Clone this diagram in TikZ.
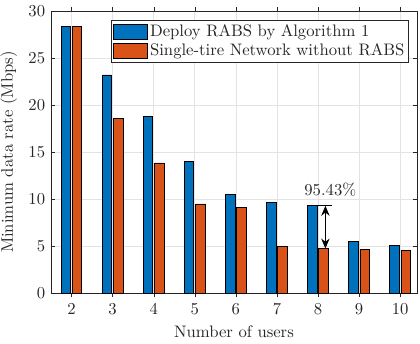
\documentclass[tikz,border=0pt]{standalone}
\usepackage{amssymb}
\usepackage{amsmath}
\usepackage{pgfplots}
\pgfplotsset{compat=1.15}
\usetikzlibrary{arrows.meta}

\definecolor{barblue}{rgb}{0,0.447,0.741}
\definecolor{barred}{rgb}{0.85,0.325,0.098}
\definecolor{axgray}{rgb}{0.15,0.15,0.15}

\begin{document}
\begin{tikzpicture}

\begin{axis}[
  at={(30.6pt,30.4pt)}, anchor=south west,
  scale only axis, width=219.6pt, height=169.4pt,
  xmin=1.5, xmax=10.41, ymin=0, ymax=30,
  xtick={2,...,10}, ytick={0,5,...,30},
  xtick pos=both, ytick pos=both,
  tick align=inside, major tick length=2.5pt,
  axis line style={axgray}, tick style={axgray},
  xmajorgrids, ymajorgrids, grid style={gray!22, line width=0.4pt},
  ticklabel style={text=axgray},
  xlabel={Number of users}, ylabel={Minimum data rate (Mbps)},
  label style={text=axgray},
  ybar, bar width=0.23,
  barbox/.style={/pgfplots/legend image code/.code={\draw[##1] (0pt,-4.5pt) rectangle (20.4pt,4.5pt);}},
  legend cell align=left,
  legend style={at={(axis description cs:0.978,0.968)}, anchor=north east,
    draw=axgray, line width=0.5pt, inner sep=1pt, text=axgray, font=\normalsize,
    nodes={inner sep=1.5pt}},
]

%Bars
\addplot[barbox, fill=barblue, draw=black, line width=0.5pt, bar shift=-0.136] coordinates
  {(2,28.4) (3,23.2) (4,18.8) (5,14.05) (6,10.5) (7,9.68) (8,9.3) (9,5.5) (10,5.07)};
\addplot[barbox, fill=barred, draw=black, line width=0.5pt, bar shift=0.136] coordinates
  {(2,28.4) (3,18.6) (4,13.85) (5,9.5) (6,9.14) (7,5.0) (8,4.76) (9,4.68) (10,4.6)};
\legend{Deploy RABS by Algorithm 1, Single-tire Network without RABS}

%Gap marker at 8 users
\coordinate (capL) at (axis cs:7.979,9.3);
\coordinate (capR) at (axis cs:8.35,9.3);
\coordinate (hi) at (axis cs:8.18,9.3);
\coordinate (lo) at (axis cs:8.18,4.76);
\draw[line width=0.5pt] (capL) -- (capR);
\draw[line width=0.5pt, {Stealth[length=6pt,width=5pt,inset=2pt]}-{Stealth[length=6pt,width=5pt,inset=2pt]}] (hi) -- (lo);
% Text Node
\node[text=axgray] (gain) at (axis cs:8.3,10.98) {95.43\%};
\end{axis}

\pgfresetboundingbox
\useasboundingbox (0,0) rectangle (252pt,206.4pt);
\end{tikzpicture}
\end{document}
